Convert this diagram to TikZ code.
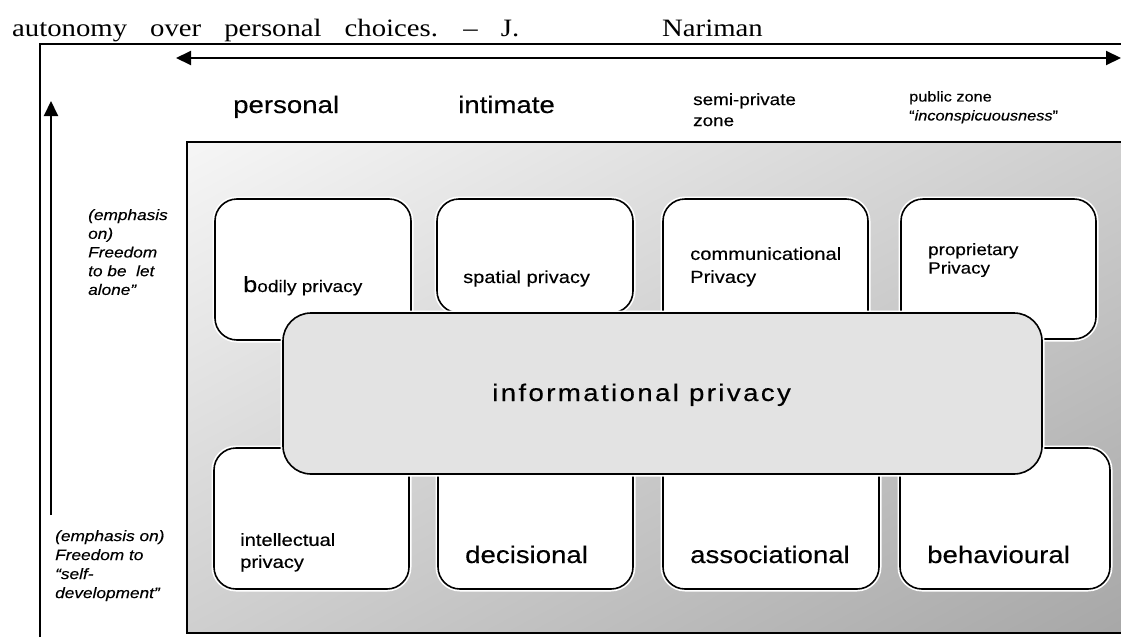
\documentclass[tikz,border=0pt]{standalone}
\usepackage{fontspec}
\usetikzlibrary{arrows.meta}
\newfontfamily\diafont{Liberation Sans}[FakeStretch=1.15,FakeBold=0.3]
\newfontfamily\widefont{Liberation Sans}[FakeStretch=1.15,FakeBold=0.4,LetterSpace=10]
\newfontfamily\quotefont{Liberation Serif}[FakeStretch=1.15]
\newcommand{\fsz}[2]{\fontsize{#1}{#2}\selectfont}
\tikzset{
  zonebox/.style = {draw, line width = 1.6pt, rounded corners = 22pt, fill = white,
    preaction = {draw = white, line width = 5pt}},
  zonetext/.style = {inner sep = 0pt, align = left, font = \diafont},
  axis/.style = {line width = 2pt, >={Triangle[length = 15pt, width = 14pt]}}
}
\begin{document}
\begin{tikzpicture}[x = 1pt, y = -1pt]
  \useasboundingbox (0,0) rectangle (1121,637);
  \node [anchor = base west, inner sep = 0pt, font = \quotefont\fsz{25}{30}] (quote) at (12,36)
    {\spaceskip = 23pt autonomy over personal choices. – J.};
  \node [anchor = base west, inner sep = 0pt, font = \quotefont\fsz{25}{30}] (author) at (662,36) {Nariman};
  \draw [line width = 1.2pt] (40,637) -- (40,44) -- (1121,44);
  % axes
  \coordinate (near) at (176,58);
  \coordinate (far) at (1121,58);
  \draw [axis, <->] (near) -- (far);
  \coordinate (low) at (51,515);
  \coordinate (high) at (51,101);
  \draw [axis, ->] (low) -- (high);
  % zones
  \node [zonetext, anchor = base west, font = \diafont\fsz{24}{28}] (personal) at (233,113) {personal};
  \node [zonetext, anchor = base west, font = \diafont\fsz{24}{28}] (intimate) at (458,113) {intimate};
  \node [zonetext, anchor = north west, font = \diafont\fsz{16.4}{21}] (semiprivate) at (693,93) {semi-private\\zone};
  \node [zonetext, anchor = north west, font = \diafont\fsz{14.2}{19}] (public) at (909,91)
    {public zone\\“\textit{inconspicuousness}”};
  \node [zonetext, anchor = north west, font = \diafont\itshape\fsz{15}{18.7}] (letalone) at (88,209)
    {(emphasis\\on)\\Freedom\\to be\ \ let\\alone”};
  \node [zonetext, anchor = north west, font = \diafont\itshape\fsz{15}{19}] (selfdev) at (55,530)
    {(emphasis on)\\Freedom to\\“self-\\development”};
  % shaded field
  \begin{scope}[y = 1pt]
    \clip (187,-142) rectangle (1125,-633);
    \shade [top color = white, bottom color = black!38, shading angle = 28] (656,-387.5) circle (540);
  \end{scope}
  \draw [line width = 2pt] (1125,142) -- (187,142) -- (187,633) -- (1125,633);
  \node [zonebox, minimum width = 196pt, minimum height = 141pt] (bodily) at (313,269.5) {};
  \node [zonebox, minimum width = 196pt, minimum height = 114pt] (spatial) at (535,256) {};
  \node [zonebox, minimum width = 205pt, minimum height = 141pt] (communicational) at (765.5,269.5) {};
  \node [zonebox, minimum width = 195pt, minimum height = 140pt] (proprietary) at (998.5,269) {};
  \node [zonebox, minimum width = 195pt, minimum height = 141pt] (intellectual) at (311.5,518.5) {};
  \node [zonebox, minimum width = 195pt, minimum height = 141pt] (decisional) at (535.5,518.5) {};
  \node [zonebox, minimum width = 216pt, minimum height = 141pt] (associational) at (771,518.5) {};
  \node [zonebox, minimum width = 210pt, minimum height = 141pt] (behavioural) at (1005,518.5) {};
  \node [zonebox, rounded corners = 28pt, fill = black!11, minimum width = 759pt, minimum height = 161pt]
    (informational) at (662.5,393.5) {};
  \node [zonetext, anchor = base west, font = \diafont\fsz{16.6}{20}] at (243,292) {{\fsz{22}{22}b}odily privacy};
  \node [zonetext, anchor = base west, font = \diafont\fsz{17.4}{21}] at (463,283) {spatial privacy};
  \node [zonetext, anchor = north west, font = \diafont\fsz{17.5}{23}] at (690,247) {communicational\\Privacy};
  \node [zonetext, anchor = north west, font = \diafont\fsz{16.4}{18.5}] at (928,243) {proprietary\\Privacy};
  \node [zonetext, anchor = north west, font = \diafont\fsz{17.5}{22}] at (240,533) {intellectual\\privacy};
  \node [zonetext, anchor = base west, font = \diafont\fsz{24}{28}] at (465,563) {decisional};
  \node [zonetext, anchor = base west, font = \diafont\fsz{24}{28}] at (690,563) {associational};
  \node [zonetext, anchor = base west, font = \diafont\fsz{24}{28}] at (927,563) {behavioural};
  \node [zonetext, anchor = base west, font = \widefont\fsz{24}{28}] at (492,401) {informational privacy};
\end{tikzpicture}
\end{document}
